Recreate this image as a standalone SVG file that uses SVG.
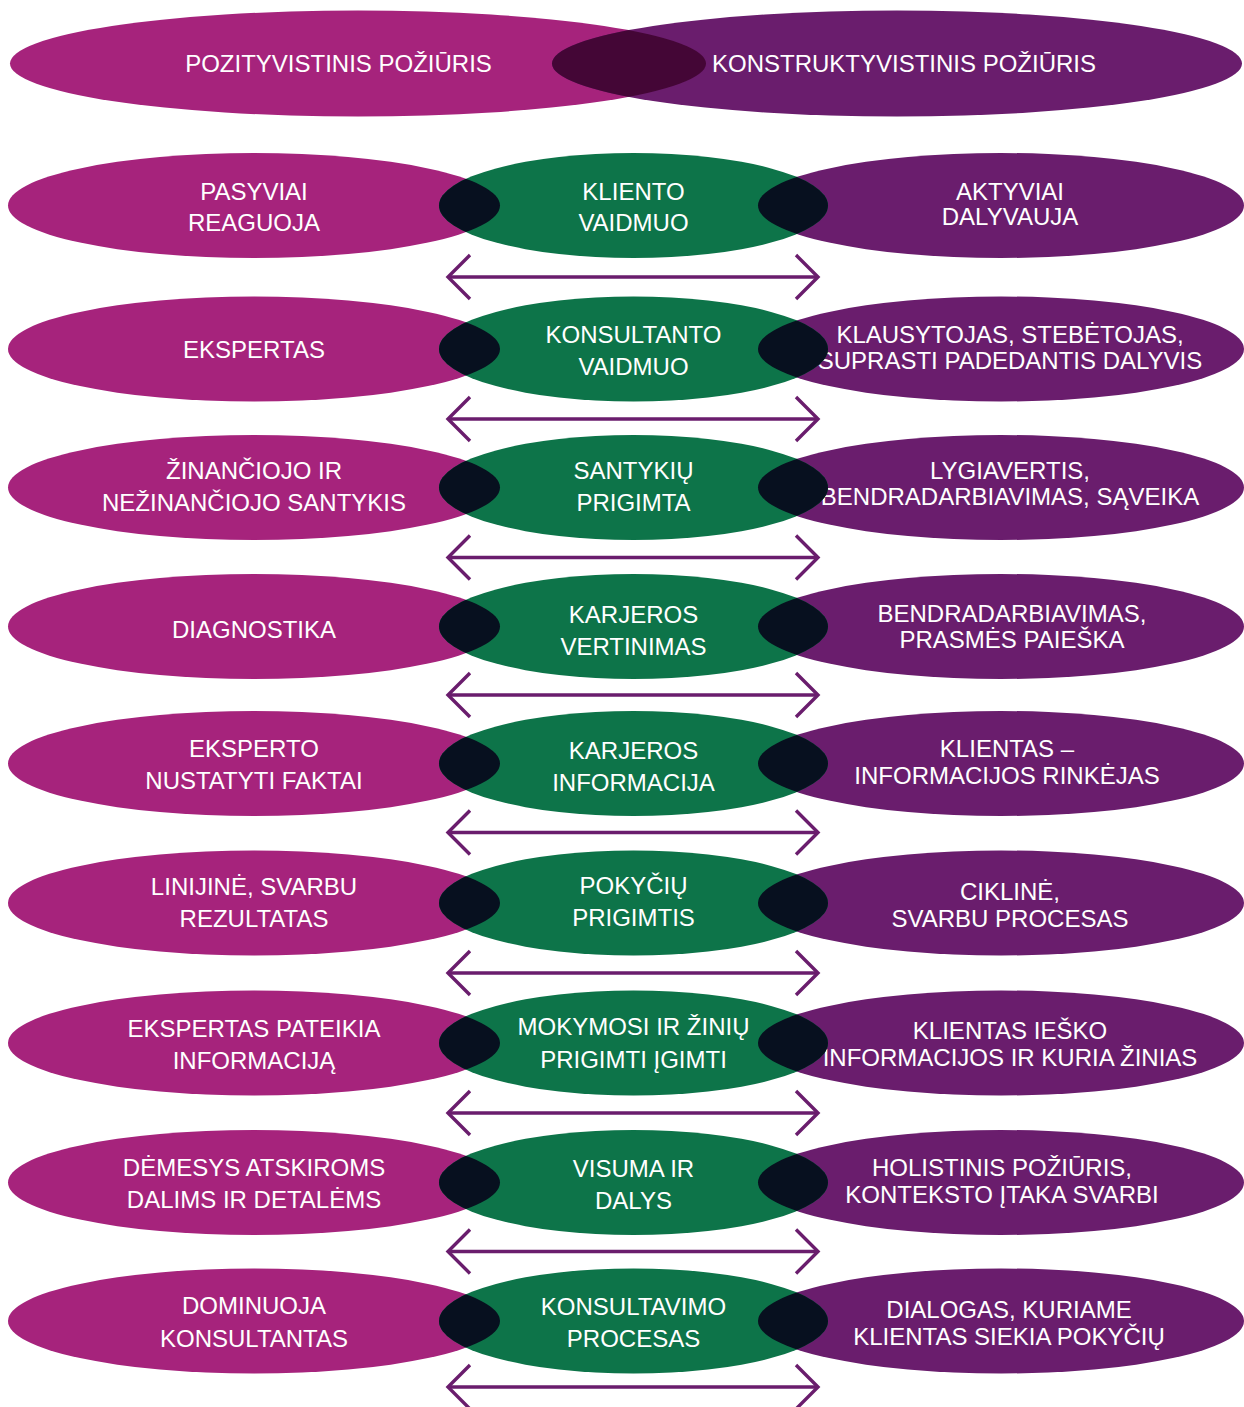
<svg xmlns="http://www.w3.org/2000/svg" xmlns:xlink="http://www.w3.org/1999/xlink" width="1244" height="1407" viewBox="0 0 1244 1407">
  <style>
    .pos { fill: #a6237c; }
    .con { fill: #6a1d6d; }
    .mid { fill: #0d7449; }
    .ovl { fill: #07101f; }
    .ovt { fill: #440636; }
    .lbl { font-family: "Liberation Sans", Arial, sans-serif; font-size: 24px; fill: #ffffff; text-anchor: middle; }
    .arr { fill: none; stroke: #6a1d6d; stroke-width: 3.4; stroke-linecap: butt; stroke-linejoin: miter; }
  </style>
  <defs>
    <!-- double-headed horizontal arrow, origin on its axis -->
    <g id="dbl">
      <line class="arr" x1="449" y1="0" x2="818" y2="0"/>
      <polyline class="arr" points="470,-22 448,0 470,22"/>
      <polyline class="arr" points="796,-22 818,0 796,22"/>
    </g>
    <clipPath id="cTop"><ellipse cx="358" cy="63.5" rx="348" ry="53"/></clipPath>
    <clipPath id="c1"><ellipse cx="633.5" cy="205.5" rx="194.5" ry="52.5"/></clipPath>
    <clipPath id="c2"><ellipse cx="633.5" cy="349" rx="194.5" ry="52.5"/></clipPath>
    <clipPath id="c3"><ellipse cx="633.5" cy="487.5" rx="194.5" ry="52.5"/></clipPath>
    <clipPath id="c4"><ellipse cx="633.5" cy="626.5" rx="194.5" ry="52.5"/></clipPath>
    <clipPath id="c5"><ellipse cx="633.5" cy="763.5" rx="194.5" ry="52.5"/></clipPath>
    <clipPath id="c6"><ellipse cx="633.5" cy="903" rx="194.5" ry="52.5"/></clipPath>
    <clipPath id="c7"><ellipse cx="633.5" cy="1043" rx="194.5" ry="52.5"/></clipPath>
    <clipPath id="c8"><ellipse cx="633.5" cy="1182.5" rx="194.5" ry="52.5"/></clipPath>
    <clipPath id="c9"><ellipse cx="633.5" cy="1321" rx="194.5" ry="52.5"/></clipPath>
  </defs>

  <rect width="1244" height="1407" fill="#ffffff"/>

  <!-- header: the two approaches -->
  <g id="positivist">
    <ellipse class="pos" cx="358" cy="63.5" rx="348" ry="53"/>
  </g>
  <g id="constructivist">
    <ellipse class="con" cx="897" cy="63.5" rx="345" ry="53"/>
  </g>
  <ellipse class="ovt" cx="897" cy="63.5" rx="345" ry="53" clip-path="url(#cTop)"/>
  <text class="lbl" x="338.5" y="71.5">POZITYVISTINIS POŽIŪRIS</text>
  <text class="lbl" x="904" y="71.5">KONSTRUKTYVISTINIS POŽIŪRIS</text>

  <!-- row 1 -->
  <g id="r1-left"><ellipse class="pos" cx="254" cy="205.5" rx="246" ry="52.5"/>
    <text class="lbl" x="254" y="199.5">PASYVIAI</text><text class="lbl" x="254" y="231">REAGUOJA</text></g>
  <g id="r1-right"><ellipse class="con" cx="1001" cy="205.5" rx="243" ry="52.5"/>
    <text class="lbl" x="1010" y="199.5">AKTYVIAI</text><text class="lbl" x="1010" y="225">DALYVAUJA</text></g>
  <g id="r1-mid"><ellipse class="mid" cx="633.5" cy="205.5" rx="194.5" ry="52.5"/>
    <g clip-path="url(#c1)"><ellipse class="ovl" cx="254" cy="205.5" rx="246" ry="52.5"/><ellipse class="ovl" cx="1001" cy="205.5" rx="243" ry="52.5"/></g>
    <text class="lbl" x="633.5" y="199.5">KLIENTO</text><text class="lbl" x="633.5" y="231">VAIDMUO</text></g>

  <!-- row 2 -->
  <g id="r2-left"><ellipse class="pos" cx="254" cy="349" rx="246" ry="52.5"/>
    <text class="lbl" x="254" y="357.5">EKSPERTAS</text></g>
  <g id="r2-right"><ellipse class="con" cx="1001" cy="349" rx="243" ry="52.5"/>
    <text class="lbl" x="1010" y="342.5">KLAUSYTOJAS, STEBĖTOJAS,</text><text class="lbl" x="1010" y="368.5">SUPRASTI PADEDANTIS DALYVIS</text></g>
  <g id="r2-mid"><ellipse class="mid" cx="633.5" cy="349" rx="194.5" ry="52.5"/>
    <g clip-path="url(#c2)"><ellipse class="ovl" cx="254" cy="349" rx="246" ry="52.5"/><ellipse class="ovl" cx="1001" cy="349" rx="243" ry="52.5"/></g>
    <text class="lbl" x="633.5" y="342.5">KONSULTANTO</text><text class="lbl" x="633.5" y="374.5">VAIDMUO</text></g>

  <!-- row 3 -->
  <g id="r3-left"><ellipse class="pos" cx="254" cy="487.5" rx="246" ry="52.5"/>
    <text class="lbl" x="254" y="478.5">ŽINANČIOJO IR</text><text class="lbl" x="254" y="510.5">NEŽINANČIOJO SANTYKIS</text></g>
  <g id="r3-right"><ellipse class="con" cx="1001" cy="487.5" rx="243" ry="52.5"/>
    <text class="lbl" x="1010" y="478.5">LYGIAVERTIS,</text><text class="lbl" x="1010" y="504.5">BENDRADARBIAVIMAS, SĄVEIKA</text></g>
  <g id="r3-mid"><ellipse class="mid" cx="633.5" cy="487.5" rx="194.5" ry="52.5"/>
    <g clip-path="url(#c3)"><ellipse class="ovl" cx="254" cy="487.5" rx="246" ry="52.5"/><ellipse class="ovl" cx="1001" cy="487.5" rx="243" ry="52.5"/></g>
    <text class="lbl" x="633.5" y="478.5">SANTYKIŲ</text><text class="lbl" x="633.5" y="510.5">PRIGIMTA</text></g>

  <!-- row 4 -->
  <g id="r4-left"><ellipse class="pos" cx="254" cy="626.5" rx="246" ry="52.5"/>
    <text class="lbl" x="254" y="638.3">DIAGNOSTIKA</text></g>
  <g id="r4-right"><ellipse class="con" cx="1001" cy="626.5" rx="243" ry="52.5"/>
    <text class="lbl" x="1012" y="621.7">BENDRADARBIAVIMAS,</text><text class="lbl" x="1012" y="648.3">PRASMĖS PAIEŠKA</text></g>
  <g id="r4-mid"><ellipse class="mid" cx="633.5" cy="626.5" rx="194.5" ry="52.5"/>
    <g clip-path="url(#c4)"><ellipse class="ovl" cx="254" cy="626.5" rx="246" ry="52.5"/><ellipse class="ovl" cx="1001" cy="626.5" rx="243" ry="52.5"/></g>
    <text class="lbl" x="633.5" y="622.5">KARJEROS</text><text class="lbl" x="633.5" y="654.5">VERTINIMAS</text></g>

  <!-- row 5 -->
  <g id="r5-left"><ellipse class="pos" cx="254" cy="763.5" rx="246" ry="52.5"/>
    <text class="lbl" x="254" y="757.3">EKSPERTO</text><text class="lbl" x="254" y="789.3">NUSTATYTI FAKTAI</text></g>
  <g id="r5-right"><ellipse class="con" cx="1001" cy="763.5" rx="243" ry="52.5"/>
    <text class="lbl" x="1007" y="757.3">KLIENTAS –</text><text class="lbl" x="1007" y="784">INFORMACIJOS RINKĖJAS</text></g>
  <g id="r5-mid"><ellipse class="mid" cx="633.5" cy="763.5" rx="194.5" ry="52.5"/>
    <g clip-path="url(#c5)"><ellipse class="ovl" cx="254" cy="763.5" rx="246" ry="52.5"/><ellipse class="ovl" cx="1001" cy="763.5" rx="243" ry="52.5"/></g>
    <text class="lbl" x="633.5" y="758.5">KARJEROS</text><text class="lbl" x="633.5" y="790.5">INFORMACIJA</text></g>

  <!-- row 6 -->
  <g id="r6-left"><ellipse class="pos" cx="254" cy="903" rx="246" ry="52.5"/>
    <text class="lbl" x="254" y="894.5">LINIJINĖ, SVARBU</text><text class="lbl" x="254" y="926.5">REZULTATAS</text></g>
  <g id="r6-right"><ellipse class="con" cx="1001" cy="903" rx="243" ry="52.5"/>
    <text class="lbl" x="1010" y="899.5">CIKLINĖ,</text><text class="lbl" x="1010" y="926.5">SVARBU PROCESAS</text></g>
  <g id="r6-mid"><ellipse class="mid" cx="633.5" cy="903" rx="194.5" ry="52.5"/>
    <g clip-path="url(#c6)"><ellipse class="ovl" cx="254" cy="903" rx="246" ry="52.5"/><ellipse class="ovl" cx="1001" cy="903" rx="243" ry="52.5"/></g>
    <text class="lbl" x="633.5" y="894">POKYČIŲ</text><text class="lbl" x="633.5" y="926">PRIGIMTIS</text></g>

  <!-- row 7 -->
  <g id="r7-left"><ellipse class="pos" cx="254" cy="1043" rx="246" ry="52.5"/>
    <text class="lbl" x="254" y="1036.5">EKSPERTAS PATEIKIA</text><text class="lbl" x="254" y="1068.5">INFORMACIJĄ</text></g>
  <g id="r7-right"><ellipse class="con" cx="1001" cy="1043" rx="243" ry="52.5"/>
    <text class="lbl" x="1010" y="1038.5">KLIENTAS IEŠKO</text><text class="lbl" x="1010" y="1065.5">INFORMACIJOS IR KURIA ŽINIAS</text></g>
  <g id="r7-mid"><ellipse class="mid" cx="633.5" cy="1043" rx="194.5" ry="52.5"/>
    <g clip-path="url(#c7)"><ellipse class="ovl" cx="254" cy="1043" rx="246" ry="52.5"/><ellipse class="ovl" cx="1001" cy="1043" rx="243" ry="52.5"/></g>
    <text class="lbl" x="633.5" y="1035">MOKYMOSI IR ŽINIŲ</text><text class="lbl" x="633.5" y="1067.5">PRIGIMTI ĮGIMTI</text></g>

  <!-- row 8 -->
  <g id="r8-left"><ellipse class="pos" cx="254" cy="1182.5" rx="246" ry="52.5"/>
    <text class="lbl" x="254" y="1176">DĖMESYS ATSKIROMS</text><text class="lbl" x="254" y="1208.3">DALIMS IR DETALĖMS</text></g>
  <g id="r8-right"><ellipse class="con" cx="1001" cy="1182.5" rx="243" ry="52.5"/>
    <text class="lbl" x="1002" y="1176">HOLISTINIS POŽIŪRIS,</text><text class="lbl" x="1002" y="1202.7">KONTEKSTO ĮTAKA SVARBI</text></g>
  <g id="r8-mid"><ellipse class="mid" cx="633.5" cy="1182.5" rx="194.5" ry="52.5"/>
    <g clip-path="url(#c8)"><ellipse class="ovl" cx="254" cy="1182.5" rx="246" ry="52.5"/><ellipse class="ovl" cx="1001" cy="1182.5" rx="243" ry="52.5"/></g>
    <text class="lbl" x="633.5" y="1176.5">VISUMA IR</text><text class="lbl" x="633.5" y="1208.5">DALYS</text></g>

  <!-- row 9 -->
  <g id="r9-left"><ellipse class="pos" cx="254" cy="1321" rx="246" ry="52.5"/>
    <text class="lbl" x="254" y="1314.3">DOMINUOJA</text><text class="lbl" x="254" y="1346.7">KONSULTANTAS</text></g>
  <g id="r9-right"><ellipse class="con" cx="1001" cy="1321" rx="243" ry="52.5"/>
    <text class="lbl" x="1009" y="1318.3">DIALOGAS, KURIAME</text><text class="lbl" x="1009" y="1345">KLIENTAS SIEKIA POKYČIŲ</text></g>
  <g id="r9-mid"><ellipse class="mid" cx="633.5" cy="1321" rx="194.5" ry="52.5"/>
    <g clip-path="url(#c9)"><ellipse class="ovl" cx="254" cy="1321" rx="246" ry="52.5"/><ellipse class="ovl" cx="1001" cy="1321" rx="243" ry="52.5"/></g>
    <text class="lbl" x="633.5" y="1314.5">KONSULTAVIMO</text><text class="lbl" x="633.5" y="1346.5">PROCESAS</text></g>

  <!-- connectors: two-way arrows under each row -->
  <g id="connectors">
    <use xlink:href="#dbl" y="277"/>
    <use xlink:href="#dbl" y="419"/>
    <use xlink:href="#dbl" y="557.5"/>
    <use xlink:href="#dbl" y="695"/>
    <use xlink:href="#dbl" y="832.5"/>
    <use xlink:href="#dbl" y="973"/>
    <use xlink:href="#dbl" y="1113"/>
    <use xlink:href="#dbl" y="1251.5"/>
    <use xlink:href="#dbl" y="1387"/>
  </g>
</svg>
